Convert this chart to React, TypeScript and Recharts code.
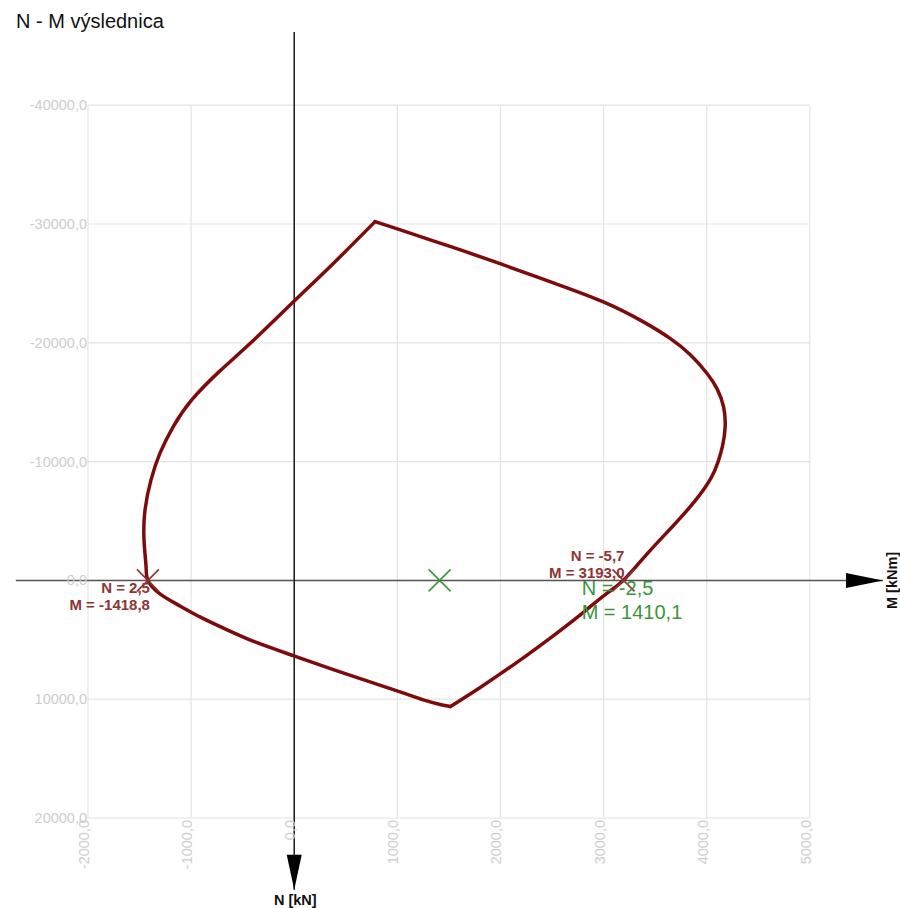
import {
  CartesianGrid,
  ReferenceDot,
  ReferenceLine,
  Scatter,
  ScatterChart,
  XAxis,
  YAxis,
} from "recharts";

// interaction diagram (M in kNm, N in kN, compression negative)
// right branch: top vertex -> bottom vertex
const RIGHT_M = [
  784, 1000, 1511, 2003, 2513, 2998, 3386, 3645, 3844, 4004, 4101, 4164, 4179, 4154, 4111,
  4043, 3887, 3664, 3422, 3193, 3019, 2777, 2486, 2146, 1807, 1516,
];
const RIGHT_N = [
  -30200, -29590, -28110, -26640, -25040, -23440, -21760, -20370, -18980, -17420, -16120, -14600, -12920, -11320, -10000,
  -8630, -6690, -4500, -2230, -5.7, 1170, 2880, 4830, 6980, 8990, 10610,
];
// left branch: bottom vertex -> top vertex
const LEFT_M = [
  1516, 1414, 1269, 997, 444, -2, -380, -671, -915, -1108, -1302, -1418.8,
  -1437, -1457, -1447, -1389, -1302, -1173, -994, -720, -397, 0, 379, 784,
];
const LEFT_N = [
  10610, 10440, 10100, 9300, 7700, 6355, 5180, 4080, 3070, 2150, 1140, 2.5,
  -1160, -3410, -5935, -8460, -10710, -12950, -15190, -17635, -20190, -23510, -26680, -30200,
];

const EXTREME_M = [-1418.8, 3193.0];
const EXTREME_N = [2.5, -5.7];
const LOAD_M = [1410.1];
const LOAD_N = [-2.5];

const M_TICKS = [-2000, -1000, 0, 1000, 2000, 3000, 4000, 5000];
const N_TICKS = [-40000, -30000, -20000, -10000, 0, 10000, 20000];

// where the drawn axes start and where their arrow tips are, in data units
const M_AXIS = [-2700, 5710];
const N_AXIS = [-46170, 26050];

const rightBranch = RIGHT_M.map((M, i) => ({ M, N: RIGHT_N[i] }));
const leftBranch = LEFT_M.map((M, i) => ({ M, N: LEFT_N[i] }));
const extremes = EXTREME_M.map((M, i) => ({ M, N: EXTREME_N[i] }));
const loads = LOAD_M.map((M, i) => ({ M, N: LOAD_N[i] }));

const FONT = "'Liberation Sans', Arial, sans-serif";
const CURVE_COLOR = "#7d0b0b";
const LABEL_RED = "#8b3535";
const GREEN = "#3b963b";
const GRID = "#e4e4e4";
const TICK = "#cdcdcd";

const fmt = (v: number) => v.toFixed(1).replace(".", ",");

function YTick({ x, y, payload }: any) {
  return (
    <text x={x - 1} y={y + 5} textAnchor="end" fill={TICK} fontSize={14.5} fontFamily={FONT}>
      {fmt(payload.value)}
    </text>
  );
}

function XTick({ x, y, payload }: any) {
  return (
    <text
      transform={`translate(${x + 1},${y + 2}) rotate(-90)`}
      textAnchor="end"
      fill={TICK}
      fontSize={14.5}
      fontFamily={FONT}
    >
      {fmt(payload.value)}
    </text>
  );
}

function cross(cx: number, cy: number, color: string) {
  const s = 11;
  return (
    <path
      d={`M${cx - s},${cy - s}L${cx + s},${cy + s}M${cx - s},${cy + s}L${cx + s},${cy - s}`}
      stroke={color}
      strokeWidth={1.6}
      fill="none"
    />
  );
}

function ExtremeMark({ cx, cy, payload }: any) {
  // negative-moment extreme gets its label below, positive one above
  const below = payload.M < 0;
  const tx = cx + (below ? 2 : 1);
  return (
    <g>
      {cross(cx, cy, LABEL_RED)}
      <text
        x={tx}
        y={below ? cy + 13 : cy - 19}
        textAnchor="end"
        fill={LABEL_RED}
        fontSize={15}
        fontWeight="bold"
        fontFamily={FONT}
      >
        <tspan x={tx}>{`N = ${fmt(payload.N)}`}</tspan>
        <tspan x={tx} dy={17}>{`M = ${fmt(payload.M)}`}</tspan>
      </text>
    </g>
  );
}

function LoadMark({ cx, cy, payload }: any) {
  return (
    <g>
      {cross(cx, cy, GREEN)}
      <text x={cx + 142} y={cy + 15} fill={GREEN} fontSize={20} fontFamily={FONT}>
        <tspan x={cx + 142}>{`N = ${fmt(payload.N)}`}</tspan>
        <tspan x={cx + 142} dy={24}>{`M = ${fmt(payload.M)}`}</tspan>
      </text>
    </g>
  );
}

function ArrowRight({ cx, cy }: any) {
  return (
    <g>
      <polygon points={`${cx},${cy} ${cx - 37},${cy - 7.5} ${cx - 37},${cy + 7.5}`} fill="#000" />
      <text
        transform={`translate(${cx + 14},${cy}) rotate(-90)`}
        textAnchor="middle"
        fontSize={14.5}
        fontWeight="bold"
        fontFamily={FONT}
        fill="#111"
      >
        M [kNm]
      </text>
    </g>
  );
}

function ArrowDown({ cx, cy }: any) {
  return (
    <g>
      <polygon points={`${cx},${cy} ${cx - 7.5},${cy - 35} ${cx + 7.5},${cy - 35}`} fill="#000" />
      <text
        x={cx + 1}
        y={cy + 15}
        textAnchor="middle"
        fontSize={14.5}
        fontWeight="bold"
        fontFamily={FONT}
        fill="#111"
      >
        N [kN]
      </text>
    </g>
  );
}

const branchLine = { stroke: CURVE_COLOR, strokeWidth: 3.5, strokeLinejoin: "round", strokeLinecap: "round" };

export default function App() {
  return (
    <div style={{ position: "absolute", left: 0, top: 0, width: 900, height: 908, background: "#fff" }}>
      <div
        style={{
          position: "absolute",
          left: 16,
          top: 9,
          fontSize: 20,
          fontFamily: FONT,
          color: "#111",
          lineHeight: "24px",
        }}
      >
        N - M výslednica
      </div>
      <ScatterChart width={900} height={908} margin={{ top: 105.2, right: 90.2, bottom: 0, left: 0 }}>
        <CartesianGrid stroke={GRID} strokeWidth={1.2} />
        <XAxis
          type="number"
          dataKey="M"
          domain={[-2000, 5000]}
          ticks={M_TICKS}
          height={90}
          axisLine={false}
          tickLine={false}
          tickSize={0}
          tickMargin={0}
          tick={(p: any) => <XTick {...p} />}
          interval={0}
        />
        <YAxis
          type="number"
          dataKey="N"
          domain={[-40000, 20000]}
          ticks={N_TICKS}
          reversed
          width={88}
          axisLine={false}
          tickLine={false}
          tickSize={0}
          tickMargin={0}
          tick={(p: any) => <YTick {...p} />}
          interval={0}
        />
        <ReferenceLine
          segment={[
            { x: M_AXIS[0], y: 0 },
            { x: M_AXIS[1], y: 0 },
          ]}
          stroke="#555"
          strokeWidth={1.5}
          ifOverflow="visible"
        />
        <ReferenceLine
          segment={[
            { x: 0, y: N_AXIS[0] },
            { x: 0, y: N_AXIS[1] },
          ]}
          stroke="#1a1a1a"
          strokeWidth={1.5}
          ifOverflow="visible"
        />
        <ReferenceDot x={M_AXIS[1]} y={0} ifOverflow="visible" shape={(p: any) => <ArrowRight {...p} />} />
        <ReferenceDot x={0} y={N_AXIS[1]} ifOverflow="visible" shape={(p: any) => <ArrowDown {...p} />} />
        <Scatter
          data={rightBranch}
          line={branchLine}
          lineType="joint"
          lineJointType="natural"
          shape={() => <g />}
          isAnimationActive={false}
        />
        <Scatter
          data={leftBranch}
          line={branchLine}
          lineType="joint"
          lineJointType="natural"
          shape={() => <g />}
          isAnimationActive={false}
        />
        <Scatter data={extremes} shape={(p: any) => <ExtremeMark {...p} />} isAnimationActive={false} />
        <Scatter data={loads} shape={(p: any) => <LoadMark {...p} />} isAnimationActive={false} />
      </ScatterChart>
    </div>
  );
}
